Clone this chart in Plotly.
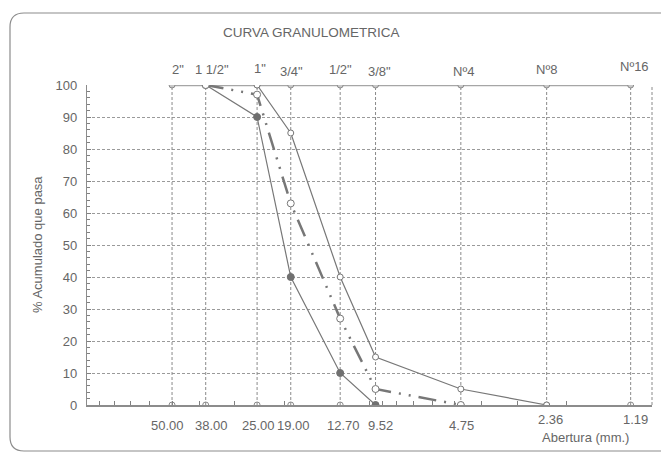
import math
import plotly.graph_objects as go

# ---- data ----
sieve_labels = ['2"', '1 1/2"', '1"', '3/4"', '1/2"', '3/8"', 'Nº4', 'Nº8', 'Nº16']
sieve_mm = [50.0, 38.0, 25.0, 19.0, 12.7, 9.52, 4.75, 2.36, 1.19]
sieve_mm_text = ['50.00', '38.00', '25.00', '19.00', '12.70', '9.52', '4.75', '2.36', '1.19']

upper_mm = [25.0, 19.0, 12.7, 9.52, 4.75, 2.36]
upper_pct = [100, 85, 40, 15, 5, 0]

lower_mm = [38.0, 25.0, 19.0, 12.7, 9.52]
lower_pct = [100, 90, 40, 10, 0]

grad_mm = [38.0, 25.0, 19.0, 12.7, 9.52, 4.75]
grad_pct = [100, 97, 63, 27, 5, 0]

y_ticks = list(range(0, 101, 10))
log_minor = [k * 10 ** e for e in (0, 1) for k in range(1, 10)] + [100]

FONT = "Liberation Sans, Arial, sans-serif"
TXT = "#666666"
LINE = "#808080"

# plot-area geometry in pixels
PL, PR, PT, PB = 87, 652, 85, 405


def px(xp):
    return (xp - PL) / (PR - PL)


def py(yp):
    return (PB - yp) / (PB - PT)


# label nudges (pixels) to mimic the original placement
top_dx = [6, 6, 3, 1, 0, 4, 3, 0, 4]
top_dy = [16, 16, 17, 14, 16, 14, 14, 16, 19]
bot_dx = [-5, 6, 1, 3, 3, 5, 1, 4, 5]
bot_dy = [-20, -20, -20, -20, -20, -20, -20, -14, -14]

fig = go.Figure()

# vertical dashed drop lines at each sieve
vx, vy = [], []
for s in sieve_mm:
    vx += [s, s, None]
    vy += [0, 100, None]
fig.add_trace(go.Scatter(x=vx, y=vy, mode="lines", hoverinfo="skip",
                         line=dict(color="#8a8a8a", width=1, dash="3px,2px")))

# top reference series at 100 %
fig.add_trace(go.Scatter(x=sieve_mm, y=[100] * len(sieve_mm), mode="lines+markers",
                         line=dict(color="#a6a6a6", width=2.5),
                         marker=dict(symbol="circle", size=6, color="#c8c8c8",
                                     line=dict(color="#8a8a8a", width=1))))
# bottom reference series at 0 %
fig.add_trace(go.Scatter(x=sieve_mm, y=[0] * len(sieve_mm), mode="markers",
                         marker=dict(symbol="circle-open", size=6, color="#8a8a8a",
                                     line=dict(width=1))))

# upper limit
fig.add_trace(go.Scatter(x=upper_mm, y=upper_pct, mode="lines+markers",
                         line=dict(color="#777777", width=1.2),
                         marker=dict(symbol="circle", size=6, color="white",
                                     line=dict(color="#777777", width=1))))
# lower limit
fig.add_trace(go.Scatter(x=lower_mm, y=lower_pct, mode="lines+markers",
                         line=dict(color="#777777", width=1.2),
                         marker=dict(symbol="circle", size=7, color="#707070",
                                     line=dict(color="#707070", width=1))))
# gradation curve
fig.add_trace(go.Scatter(x=grad_mm, y=grad_pct, mode="lines+markers",
                         line=dict(color="#777777", width=2.5,
                                   dash="18px,8px,2px,8px,2px,8px"),
                         marker=dict(symbol="circle", size=7, color="white",
                                     line=dict(color="#777777", width=1))))

annotations = []
for i, (lab, s) in enumerate(zip(sieve_labels, sieve_mm)):
    annotations.append(dict(x=math.log10(s), y=100, xref="x", yref="y", text=lab,
                            showarrow=False, xanchor="center", yanchor="middle",
                            yshift=top_dy[i], xshift=top_dx[i],
                            font=dict(family=FONT, size=13, color=TXT)))
for i, (lab, s) in enumerate(zip(sieve_mm_text, sieve_mm)):
    annotations.append(dict(x=math.log10(s), y=0, xref="x", yref="y", text=lab,
                            showarrow=False, xanchor="center", yanchor="middle",
                            yshift=bot_dy[i], xshift=bot_dx[i],
                            font=dict(family=FONT, size=13, color=TXT)))
annotations.append(dict(x=px(585), y=py(437), xref="paper", yref="paper",
                        text="Abertura (mm.)", showarrow=False,
                        xanchor="center", yanchor="middle",
                        font=dict(family=FONT, size=13, color=TXT)))
annotations.append(dict(x=px(311), y=py(33), xref="paper", yref="paper",
                        text="CURVA GRANULOMETRICA", showarrow=False,
                        xanchor="center", yanchor="middle",
                        font=dict(family=FONT, size=13.5, color=TXT)))
annotations.append(dict(x=px(37), y=py(245), xref="paper", yref="paper",
                        text="% Acumulado que pasa", showarrow=False, textangle=-90,
                        xanchor="center", yanchor="middle",
                        font=dict(family=FONT, size=13, color=TXT)))

# outer rounded frame (paper coords)
L, T, B, R = px(10), py(13), py(451), px(680)
rx, ry = 14 / (PR - PL), 14 / (PB - PT)
frame = (f"M {R} {T} L {L + rx} {T} Q {L} {T} {L} {T - ry} "
         f"L {L} {B + ry} Q {L} {B} {L + rx} {B} L {R} {B}")

fig.update_layout(
    width=661, height=457,
    margin=dict(l=PL, r=661 - PR, t=PT, b=457 - PB),
    paper_bgcolor="white", plot_bgcolor="white",
    showlegend=False,
    font=dict(family=FONT, size=13, color=TXT),
    annotations=annotations,
    shapes=[
        dict(type="path", path=frame, xref="paper", yref="paper",
             line=dict(color="#8c8c8c", width=1.2), layer="below"),
        dict(type="line", x0=1, x1=1, y0=0, y1=1, xref="paper", yref="paper",
             line=dict(color="#8a8a8a", width=1, dash="3px,2px")),
    ],
    xaxis=dict(type="log", range=[2, 0], tickvals=log_minor, showticklabels=False,
               ticks="inside", ticklen=4, tickcolor=LINE, showgrid=False,
               showline=True, linecolor="#8c8c8c", linewidth=1.5, zeroline=False,
               automargin=False),
    yaxis=dict(range=[0, 100], tickvals=y_ticks, ticks="inside", ticklen=4,
               tickcolor=LINE, showline=True, linecolor="#8c8c8c", linewidth=1.2,
               showgrid=True, gridcolor="#9a9a9a", griddash="3px,2px", gridwidth=1,
               zeroline=False, ticklabelstandoff=6, automargin=False,
               minor=dict(dtick=2, ticks="inside", ticklen=3, tickcolor=LINE, showgrid=False),
               tickfont=dict(family=FONT, size=13, color=TXT)),
)

fig.write_html("out.html", config={"displayModeBar": False},
               post_script="document.body.style.margin='0px';")
